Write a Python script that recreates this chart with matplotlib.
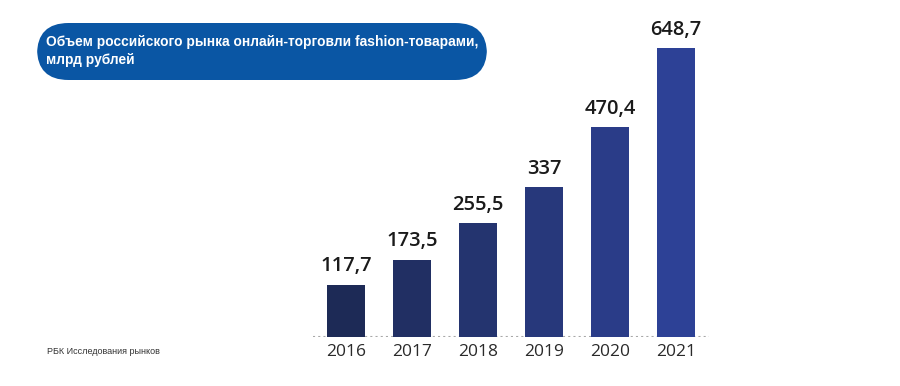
import matplotlib.pyplot as plt
from matplotlib.patches import FancyBboxPatch
import numpy as np

# data
years = ['2016', '2017', '2018', '2019', '2020', '2021']
values = [117.7, 173.5, 255.5, 337, 470.4, 648.7]
labels = ['117,7', '173,5', '255,5', '337', '470,4', '648,7']
colors = ['#1d2a56', '#212f63', '#24346f', '#27387b', '#2a3c88', '#2d4196']

W, H = 900, 386
fig = plt.figure(figsize=(9, 3.86), dpi=100)

# bar area in pixels: x 313..709, baseline at y=337
ax = fig.add_axes([313 / W, (H - 337) / H, 396 / W, 337 / H])
x = np.arange(len(years))
ax.bar(x, values, width=0.58, color=colors, zorder=2)
ax.set_xlim(-0.5, 5.5)
ax.set_ylim(0, 337 / 0.4455)
ax.axhline(0, color='#a8a8a8', linewidth=1.5, linestyle=(0, (1, 1.5)), zorder=1)

for xi, v, lab in zip(x, values, labels):
    ax.annotate(lab, (xi, v), xytext=(0, 6), textcoords='offset points',
                ha='center', va='bottom', fontsize=14.5, color='#1a1a1a',
                family='Open Sans', fontweight='semibold')

ax.set_xticks(x)
ax.set_xticklabels(years, fontsize=12.5, color='#2a2a2a', family='Open Sans')
ax.tick_params(axis='x', length=0, pad=5)
ax.set_yticks([])
for s in ax.spines.values():
    s.set_visible(False)
ax.patch.set_alpha(0)

# title box
box = FancyBboxPatch((37 / W, (H - 80) / H), 450 / W, 57 / H,
                     boxstyle='round,pad=0,rounding_size=0.035',
                     transform=fig.transFigure, facecolor='#0a56a4',
                     edgecolor='none', mutation_aspect=W / H)
fig.patches.append(box)
title = fig.text(46 / W, (H - 51) / H,
                 'Объем российского рынка онлайн-торговли fashion-товарами,\nмлрд рублей',
                 color='white', fontsize=10.5, fontweight='bold', family='Liberation Sans',
                 va='center', ha='left', linespacing=1.3)
# fit the title line width to the box (~432 px)
fig.canvas.draw()
w = title.get_window_extent().width
title.set_fontsize(10.5 * 432 / w)

fig.text(47 / W, (H - 352) / H, 'РБК Исследования рынков', fontsize=6.5,
         color='#333333', family='Liberation Sans', va='center')

fig.savefig('out.png', dpi=100)
